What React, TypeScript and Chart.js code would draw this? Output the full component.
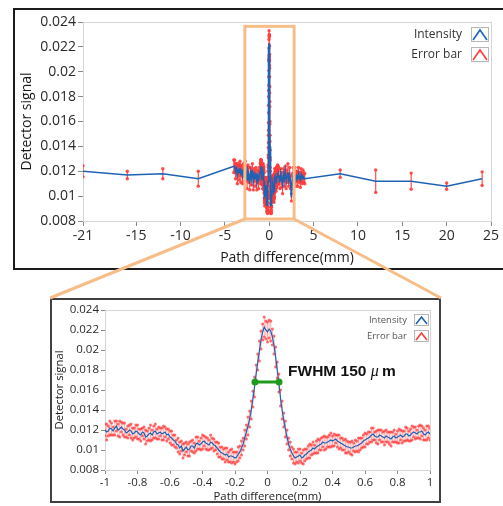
import React, { useEffect, useRef, useState } from "react";
import { Chart, registerables } from "chart.js";

Chart.register(...registerables);

// ---------------- data ----------------
// sparse outer scan points (top chart)
const OUTER_X = [-21, -16, -12, -8, -4, 4, 8, 12, 16, 20, 24];
const OUTER_Y = [0.012, 0.0117, 0.0118, 0.0114, 0.0124, 0.0114, 0.0118, 0.0112, 0.0112, 0.0108, 0.0114];
const OUTER_ERR = [0.00045, 0.0003, 0.0004, 0.0006, 0.0005, 0.0004, 0.0003, 0.0009, 0.00065, 0.00025, 0.00055];

// medium-density points around the centre (top chart)
const MID_X = [
  -3.9, -3.8, -3.7, -3.6, -3.5, -3.4, -3.3, -3.2, -3.1, -3.0, -2.9, -2.8, -2.7, -2.6, -2.5,
  -2.4, -2.3, -2.2, -2.1, -2.0, -1.9, -1.8, -1.7, -1.6, -1.5, -1.4, -1.3, -1.2, -1.1,
  1.1, 1.2, 1.3, 1.4, 1.5, 1.6, 1.7, 1.8, 1.9, 2.0, 2.1, 2.2, 2.3, 2.4, 2.5,
  2.6, 2.7, 2.8, 2.9, 3.0, 3.1, 3.2, 3.3, 3.4, 3.5, 3.6, 3.7, 3.8, 3.9,
];
const MID_Y = [
  0.0124, 0.012, 0.0122, 0.0117, 0.0121, 0.0119, 0.0123, 0.0118, 0.012, 0.0116, 0.0121, 0.0119, 0.0124, 0.0118, 0.0113,
  0.012, 0.0117, 0.011, 0.0119, 0.0115, 0.0121, 0.0112, 0.0117, 0.0114, 0.0119, 0.0111, 0.0116, 0.0113, 0.0118,
  0.0116, 0.0111, 0.0118, 0.0113, 0.0109, 0.0117, 0.0114, 0.012, 0.0112, 0.0116, 0.0119, 0.0113, 0.0117, 0.0111, 0.0099,
  0.0112, 0.0118, 0.0115, 0.0117, 0.0113, 0.0116, 0.0114, 0.0118, 0.0115, 0.0113, 0.0117, 0.0114, 0.0116, 0.0115,
];
const MID_ERR = [
  0.0005, 0.0006, 0.0004, 0.0007, 0.0005, 0.0006, 0.0005, 0.0007, 0.0004, 0.0006, 0.0005, 0.0007, 0.0004, 0.0006, 0.0007,
  0.0005, 0.0006, 0.0005, 0.0004, 0.0006, 0.0005, 0.0007, 0.0005, 0.0006, 0.0004, 0.0006, 0.0005, 0.0007, 0.0005,
  0.0006, 0.0005, 0.0004, 0.0006, 0.0007, 0.0005, 0.0006, 0.0004, 0.0006, 0.0005, 0.0007, 0.0005, 0.0006, 0.0005, 0.0003,
  0.0006, 0.0005, 0.0004, 0.0006, 0.0005, 0.0004, 0.0006, 0.0005, 0.0004, 0.0006, 0.0005, 0.0004, 0.0005, 0.0004,
];

// dense zoom scan, -1 .. 1 mm in 0.01 mm steps (both charts)
const DENSE_X_START = -1;
const DENSE_X_STEP = 0.01;
const DENSE_Y = [
  0.012, 0.0118, 0.0119, 0.0122, 0.0121, 0.0119, 0.0122, 0.0124, 0.012, 0.0121, 0.0123, 0.0121, 0.012, 0.0117, 0.0118, 0.012, 0.0119, 0.0116, 0.0117, 0.0119,
  0.0118, 0.0116, 0.0115, 0.0118, 0.0117, 0.0113, 0.0114, 0.0116, 0.0117, 0.0115, 0.0118, 0.0119, 0.0116, 0.0117, 0.0118, 0.0116, 0.0117, 0.0118, 0.0115, 0.0116,
  0.0113, 0.0112, 0.011, 0.0109, 0.0106, 0.0105, 0.0102, 0.0104, 0.0099, 0.0101, 0.0103, 0.01, 0.0101, 0.0104, 0.0104, 0.0102, 0.0106, 0.0107, 0.0105, 0.0106,
  0.0108, 0.0109, 0.0107, 0.0106, 0.0105, 0.0108, 0.0107, 0.0105, 0.0104, 0.0102, 0.01, 0.0098, 0.0097, 0.0096, 0.0095, 0.0096, 0.0093, 0.0094, 0.0094, 0.0093,
  0.0092, 0.0093, 0.0096, 0.0098, 0.0102, 0.0106, 0.0112, 0.0118, 0.0124, 0.0131, 0.014, 0.0151, 0.0163, 0.0176, 0.0188, 0.0199, 0.021, 0.0218, 0.0223, 0.022,
  0.0218, 0.0221, 0.0219, 0.0213, 0.0205, 0.0193, 0.018, 0.0167, 0.0152, 0.014, 0.013, 0.0121, 0.0113, 0.0106, 0.0101, 0.0097, 0.0094, 0.0092, 0.0093, 0.0094,
  0.0095, 0.0092, 0.0093, 0.0095, 0.0096, 0.0098, 0.0099, 0.01, 0.0102, 0.0101, 0.0103, 0.0104, 0.0105, 0.0106, 0.0108, 0.0107, 0.0107, 0.0108, 0.0109, 0.011,
  0.0109, 0.011, 0.0111, 0.0109, 0.0108, 0.0107, 0.0106, 0.0105, 0.0104, 0.0103, 0.0103, 0.0102, 0.0102, 0.0103, 0.0104, 0.0104, 0.0105, 0.0106, 0.0107, 0.0109,
  0.011, 0.0111, 0.0112, 0.0113, 0.0115, 0.0116, 0.0114, 0.0113, 0.0113, 0.0115, 0.0114, 0.0113, 0.0112, 0.0114, 0.0113, 0.0112, 0.0111, 0.0113, 0.0114, 0.0112,
  0.0113, 0.0114, 0.0115, 0.0113, 0.0114, 0.0116, 0.0116, 0.0114, 0.0115, 0.0117, 0.0118, 0.0117, 0.0116, 0.0118, 0.0118, 0.0119, 0.0116, 0.0115, 0.0117, 0.0118,
  0.0116,
];
const DENSE_ERR = [
  0.0006, 0.0008, 0.0005, 0.0007, 0.0006, 0.0004, 0.0007, 0.0005, 0.0006, 0.0008, 0.0005, 0.0006, 0.0007, 0.0004, 0.0006, 0.0005, 0.0007, 0.0006, 0.0005, 0.0006,
  0.0007, 0.0005, 0.0006, 0.0004, 0.0006, 0.0007, 0.0005, 0.0006, 0.0008, 0.0005, 0.0006, 0.0007, 0.0005, 0.0006, 0.0004, 0.0006, 0.0007, 0.0005, 0.0006, 0.0005,
  0.0006, 0.0007, 0.0005, 0.0006, 0.0004, 0.0007, 0.0006, 0.0005, 0.0007, 0.0006, 0.0005, 0.0006, 0.0007, 0.0005, 0.0006, 0.0005, 0.0007, 0.0006, 0.0004, 0.0006,
  0.0007, 0.0005, 0.0006, 0.0006, 0.0005, 0.0007, 0.0005, 0.0006, 0.0004, 0.0006, 0.0007, 0.0005, 0.0006, 0.0005, 0.0007, 0.0006, 0.0005, 0.0006, 0.0007, 0.0005,
  0.0006, 0.0005, 0.0007, 0.0006, 0.0007, 0.0006, 0.0008, 0.0007, 0.0009, 0.0008, 0.0009, 0.0008, 0.001, 0.0009, 0.0008, 0.001, 0.0009, 0.0008, 0.001, 0.0009,
  0.001, 0.0009, 0.001, 0.0008, 0.0009, 0.001, 0.0008, 0.0009, 0.0008, 0.0009, 0.0007, 0.0008, 0.0007, 0.0006, 0.0007, 0.0006, 0.0007, 0.0006, 0.0005, 0.0007,
  0.0006, 0.0005, 0.0007, 0.0006, 0.0005, 0.0006, 0.0007, 0.0005, 0.0006, 0.0004, 0.0006, 0.0007, 0.0005, 0.0006, 0.0005, 0.0007, 0.0006, 0.0005, 0.0006, 0.0007,
  0.0005, 0.0006, 0.0004, 0.0006, 0.0007, 0.0005, 0.0006, 0.0005, 0.0007, 0.0006, 0.0005, 0.0006, 0.0007, 0.0004, 0.0006, 0.0005, 0.0007, 0.0006, 0.0005, 0.0006,
  0.0007, 0.0005, 0.0006, 0.0005, 0.0007, 0.0006, 0.0004, 0.0006, 0.0007, 0.0005, 0.0006, 0.0005, 0.0007, 0.0006, 0.0005, 0.0006, 0.0007, 0.0005, 0.0006, 0.0004,
  0.0006, 0.0007, 0.0005, 0.0006, 0.0005, 0.0007, 0.0006, 0.0005, 0.0006, 0.0007, 0.0005, 0.0006, 0.0004, 0.0006, 0.0007, 0.0005, 0.0006, 0.0005, 0.0007, 0.0006,
  0.0006,
];

// FWHM marker (x range at half maximum)
const FWHM_X = [-0.077, 0.071];
const FWHM_Y = 0.0168;
const FWHM_LABEL = ["FWHM 150 ", "\u03bc", " m"];

// tick labels
const TOP_X_TICKS = [-21, -15, -10, -5, 0, 5, 10, 15, 20, 25];
const BOT_X_TICKS = [-1, -0.8, -0.6, -0.4, -0.2, 0, 0.2, 0.4, 0.6, 0.8, 1];
const Y_TICKS = [0.008, 0.01, 0.012, 0.014, 0.016, 0.018, 0.02, 0.022, 0.024];
const LEGEND_LABELS = ["Intensity", "Error bar"];
const X_TITLE = "Path difference(mm)";
const Y_TITLE = "Detector signal";

// zoomed region marked on the top chart
const ZOOM_X = [-2.75, 2.8];
const ZOOM_Y = [0.00816, 0.02365];

// ---------------- styling / layout ----------------
const BLUE = "#1f62b3";
const RED = "rgba(255,60,60,0.9)";
const RED_SOFT = "rgba(255,80,80,0.45)";
const GREEN = "#1f9a1f";
const ORANGE = "#f7bd88";
const FONT = '"Open Sans", "DejaVu Sans", sans-serif';

const TOP_CANVAS = { left: 15, top: 10, width: 488, height: 258 };
const BOT_BOX = { left: 50, top: 298, width: 391, height: 205 };
const BOT_CANVAS = { left: 52, top: 300, width: 387, height: 205 };

const DENSE_X = DENSE_Y.map((_, i) => Math.round((DENSE_X_START + i * DENSE_X_STEP) * 100) / 100);

type P = { x: number; y: number; e: number };

function zipSet(xs: number[], ys: number[], es: number[]): P[] {
  return xs.map((x, i) => ({ x, y: ys[i], e: es[i] }));
}

function linePoints(pts: P[]) {
  return pts.map((p) => ({ x: p.x, y: p.y }));
}

function errorSegments(pts: P[]) {
  const out: { x: number; y: number | null }[] = [];
  pts.forEach((p) => {
    out.push({ x: p.x, y: p.y - p.e }, { x: p.x, y: p.y + p.e }, { x: p.x, y: null });
  });
  return out;
}

const TOP_POINTS: P[] = [
  ...zipSet(OUTER_X, OUTER_Y, OUTER_ERR),
  ...zipSet(MID_X, MID_Y, MID_ERR),
  ...zipSet(DENSE_X, DENSE_Y, DENSE_ERR),
].sort((a, b) => a.x - b.x);

const BOT_POINTS: P[] = zipSet(DENSE_X, DENSE_Y, DENSE_ERR);

const fmtY = (v: number | string) => String(Number(Number(v).toFixed(3)));
const fmtX = (v: number | string) => String(Number(Number(v).toFixed(2)));

function legendPlugin(cfg: {
  font: string;
  color: string;
  textDx: number;
  boxDx: number;
  boxW: number;
  boxH: number;
  dy: number;
  rowH: number;
}) {
  const colors = [BLUE, "#ff3b3b"];
  return {
    id: "customLegend",
    afterDraw(chart: any) {
      const { ctx, chartArea: a } = chart;
      LEGEND_LABELS.forEach((label, i) => {
        const cy = a.top + cfg.dy + i * cfg.rowH;
        ctx.save();
        ctx.font = cfg.font;
        ctx.fillStyle = cfg.color;
        ctx.textAlign = "right";
        ctx.textBaseline = "middle";
        ctx.fillText(label, a.right + cfg.textDx, cy);
        const bx = Math.round(a.right + cfg.boxDx);
        const by = Math.round(cy - cfg.boxH / 2);
        ctx.fillStyle = "#ffffff";
        ctx.fillRect(bx, by, cfg.boxW, cfg.boxH);
        ctx.strokeStyle = "#b8b8b8";
        ctx.lineWidth = 1;
        ctx.strokeRect(bx + 0.5, by + 0.5, cfg.boxW - 1, cfg.boxH - 1);
        ctx.strokeStyle = colors[i];
        ctx.lineWidth = 1.6;
        ctx.beginPath();
        ctx.moveTo(bx + 2, by + cfg.boxH - 2);
        ctx.lineTo(bx + cfg.boxW / 2, by + 3);
        ctx.lineTo(bx + cfg.boxW - 2, by + cfg.boxH - 2);
        ctx.stroke();
        ctx.restore();
      });
    },
  };
}

const framePlugin = {
  id: "frame",
  beforeDatasetsDraw(chart: any) {
    const { ctx, chartArea: a } = chart;
    ctx.save();
    ctx.strokeStyle = "#d6d6d6";
    ctx.lineWidth = 1;
    ctx.strokeRect(Math.round(a.left) + 0.5, Math.round(a.top) + 0.5, Math.round(a.right - a.left), Math.round(a.bottom - a.top));
    ctx.restore();
  },
};

const zoomRectPlugin = {
  id: "zoomRect",
  afterDraw(chart: any) {
    const { ctx, scales } = chart;
    const x0 = scales.x.getPixelForValue(ZOOM_X[0]);
    const x1 = scales.x.getPixelForValue(ZOOM_X[1]);
    const y0 = scales.y.getPixelForValue(ZOOM_Y[1]);
    const y1 = scales.y.getPixelForValue(ZOOM_Y[0]);
    ctx.save();
    ctx.strokeStyle = ORANGE;
    ctx.lineWidth = 3;
    ctx.strokeRect(x0, y0, x1 - x0, y1 - y0);
    ctx.restore();
  },
};

const fwhmLabelPlugin = {
  id: "fwhmLabel",
  afterDraw(chart: any) {
    const { ctx, scales } = chart;
    let x = scales.x.getPixelForValue(FWHM_X[1]) + 9;
    const y = scales.y.getPixelForValue(FWHM_Y) - 10;
    ctx.save();
    ctx.fillStyle = "#111";
    ctx.textBaseline = "middle";
    ctx.textAlign = "left";
    const fonts = [
      'bold 15.5px "Liberation Sans", Arial, sans-serif',
      'italic 16px "Liberation Serif", serif',
      'bold 15.5px "Liberation Sans", Arial, sans-serif',
    ];
    FWHM_LABEL.forEach((t, i) => {
      ctx.font = fonts[i];
      ctx.fillText(t, x, y);
      x += ctx.measureText(t).width - (i === 1 ? 1 : 0);
    });
    ctx.restore();
  },
};

function axisCommon(o: { fontSize: number; tickLen: number; tickPad: number }) {
  return {
    grid: { drawOnChartArea: false, drawTicks: true, tickLength: o.tickLen, color: "#8a8a8a" },
    border: { display: true, color: "#c4c4c4" },
    ticks: {
      font: { family: FONT, size: o.fontSize },
      color: "#2a2a2a",
      padding: o.tickPad,
      autoSkip: false,
      maxRotation: 0,
    },
  };
}

function topConfig(): any {
  const c = axisCommon({ fontSize: 14, tickLen: 5, tickPad: 2 });
  return {
    type: "line",
    data: {
      datasets: [
        {
          label: LEGEND_LABELS[0],
          data: linePoints(TOP_POINTS),
          borderColor: BLUE,
          borderWidth: 1.6,
          pointRadius: 0,
          tension: 0,
        },
        {
          label: LEGEND_LABELS[1],
          data: errorSegments(TOP_POINTS),
          borderColor: RED,
          backgroundColor: RED,
          borderWidth: 1.2,
          pointRadius: 1.7,
          pointBorderWidth: 0,
          pointStyle: "circle",
          spanGaps: false,
        },
      ],
    },
    options: {
      animation: false,
      responsive: false,
      maintainAspectRatio: false,
      devicePixelRatio: 1,
      layout: { padding: { left: 0, top: 12, right: 12, bottom: 0 } },
      plugins: { legend: { display: false }, tooltip: { enabled: false } },
      scales: {
        x: {
          type: "linear",
          min: -21,
          max: 25,
          ...c,
          afterBuildTicks: (s: any) => {
            s.ticks = TOP_X_TICKS.map((v) => ({ value: v }));
          },
          afterFit: (s: any) => {
            s.height = 47;
          },
          ticks: { ...c.ticks, callback: (v: any) => fmtX(v) },
          title: {
            display: true,
            text: X_TITLE,
            color: "#1a1a1a",
            font: { family: FONT, size: 14 },
            padding: { top: 0, bottom: 1.8 },
          },
        },
        y: {
          type: "linear",
          min: 0.008,
          max: 0.024,
          ...c,
          afterBuildTicks: (s: any) => {
            s.ticks = Y_TICKS.map((v) => ({ value: v }));
          },
          afterFit: (s: any) => {
            s.width = 68;
          },
          ticks: { ...c.ticks, callback: (v: any) => fmtY(v) },
          title: {
            display: true,
            text: Y_TITLE,
            color: "#1a1a1a",
            font: { family: FONT, size: 14 },
            padding: { top: 3.6, bottom: 0 },
          },
        },
      },
    },
    plugins: [
      framePlugin,
      zoomRectPlugin,
      legendPlugin({
        font: `12px ${FONT}`,
        color: "#333",
        textDx: -29,
        boxDx: -20,
        boxW: 18,
        boxH: 15,
        dy: 12.5,
        rowH: 20,
      }),
    ],
  };
}

function botConfig(): any {
  const c = axisCommon({ fontSize: 11.5, tickLen: 4, tickPad: 2 });
  return {
    type: "line",
    data: {
      datasets: [
        {
          label: "FWHM",
          data: FWHM_X.map((x) => ({ x, y: FWHM_Y })),
          borderColor: GREEN,
          backgroundColor: GREEN,
          borderWidth: 3,
          pointRadius: 3.5,
          pointBorderWidth: 0,
        },
        {
          label: LEGEND_LABELS[0],
          data: linePoints(BOT_POINTS),
          borderColor: BLUE,
          borderWidth: 1.2,
          pointRadius: 0,
          tension: 0,
        },
        {
          label: LEGEND_LABELS[1],
          data: errorSegments(BOT_POINTS),
          borderColor: RED_SOFT,
          backgroundColor: "rgba(255,60,60,0.75)",
          borderWidth: 1,
          pointRadius: 1.5,
          pointBorderWidth: 0,
          pointStyle: "circle",
          spanGaps: false,
        },
      ],
    },
    options: {
      animation: false,
      responsive: false,
      maintainAspectRatio: false,
      devicePixelRatio: 1,
      layout: { padding: { left: 0, top: 10, right: 9, bottom: 0 } },
      plugins: { legend: { display: false }, tooltip: { enabled: false } },
      scales: {
        x: {
          type: "linear",
          min: -1,
          max: 1,
          ...c,
          afterBuildTicks: (s: any) => {
            s.ticks = BOT_X_TICKS.map((v) => ({ value: v }));
          },
          afterFit: (s: any) => {
            s.height = 35;
          },
          ticks: { ...c.ticks, callback: (v: any) => fmtX(v) },
          title: {
            display: true,
            text: X_TITLE,
            color: "#1a1a1a",
            font: { family: FONT, size: 11.3 },
            padding: { top: 0, bottom: 1.2 },
          },
        },
        y: {
          type: "linear",
          min: 0.008,
          max: 0.024,
          ...c,
          afterBuildTicks: (s: any) => {
            s.ticks = Y_TICKS.map((v) => ({ value: v }));
          },
          afterFit: (s: any) => {
            s.width = 53;
          },
          ticks: { ...c.ticks, callback: (v: any) => fmtY(v) },
          title: {
            display: true,
            text: Y_TITLE,
            color: "#1a1a1a",
            font: { family: FONT, size: 11.3 },
            padding: { top: 1, bottom: 0 },
          },
        },
      },
    },
    plugins: [
      framePlugin,
      fwhmLabelPlugin,
      legendPlugin({
        font: `9.5px ${FONT}`,
        color: "#555",
        textDx: -23,
        boxDx: -16,
        boxW: 15,
        boxH: 12,
        dy: 10,
        rowH: 16,
      }),
    ],
  };
}

export default function App() {
  const topRef = useRef<HTMLCanvasElement>(null);
  const botRef = useRef<HTMLCanvasElement>(null);
  const [conn, setConn] = useState<null | { lx: number; rx: number; y: number }>(null);

  useEffect(() => {
    const top = new Chart(topRef.current as HTMLCanvasElement, topConfig());
    const bot = new Chart(botRef.current as HTMLCanvasElement, botConfig());
    const xs: any = top.scales.x;
    const ys: any = top.scales.y;
    setConn({
      lx: TOP_CANVAS.left + xs.getPixelForValue(ZOOM_X[0]),
      rx: TOP_CANVAS.left + xs.getPixelForValue(ZOOM_X[1]),
      y: TOP_CANVAS.top + ys.getPixelForValue(ZOOM_Y[0]),
    });
    return () => {
      top.destroy();
      bot.destroy();
    };
  }, []);

  return (
    <div
      style={{
        position: "absolute",
        left: 0,
        top: 0,
        width: 503,
        height: 506,
        overflow: "hidden",
        background: "#fff",
      }}
    >
      <div
        style={{
          position: "absolute",
          left: TOP_CANVAS.left - 2,
          top: TOP_CANVAS.top - 2,
          width: TOP_CANVAS.width + 20,
          height: TOP_CANVAS.height + 4,
          boxSizing: "border-box",
          border: "2px solid #1c1c1c",
        }}
      />
      <canvas
        ref={topRef}
        width={TOP_CANVAS.width}
        height={TOP_CANVAS.height}
        style={{
          position: "absolute",
          left: TOP_CANVAS.left,
          top: TOP_CANVAS.top,
          width: TOP_CANVAS.width,
          height: TOP_CANVAS.height,
        }}
      />
      <div
        style={{
          position: "absolute",
          left: BOT_BOX.left,
          top: BOT_BOX.top,
          width: BOT_BOX.width,
          height: BOT_BOX.height,
          boxSizing: "border-box",
          border: "2px solid #404040",
        }}
      />
      <canvas
        ref={botRef}
        width={BOT_CANVAS.width}
        height={BOT_CANVAS.height}
        style={{
          position: "absolute",
          left: BOT_CANVAS.left,
          top: BOT_CANVAS.top,
          width: BOT_CANVAS.width,
          height: BOT_CANVAS.height,
        }}
      />
      {conn && (
        <svg
          width={503}
          height={506}
          style={{ position: "absolute", left: 0, top: 0, pointerEvents: "none" }}
        >
          <line x1={conn.lx} y1={conn.y} x2={BOT_BOX.left} y2={BOT_BOX.top} stroke={ORANGE} strokeWidth={3} />
          <line x1={conn.rx} y1={conn.y} x2={BOT_BOX.left + BOT_BOX.width} y2={BOT_BOX.top} stroke={ORANGE} strokeWidth={3} />
        </svg>
      )}
    </div>
  );
}
